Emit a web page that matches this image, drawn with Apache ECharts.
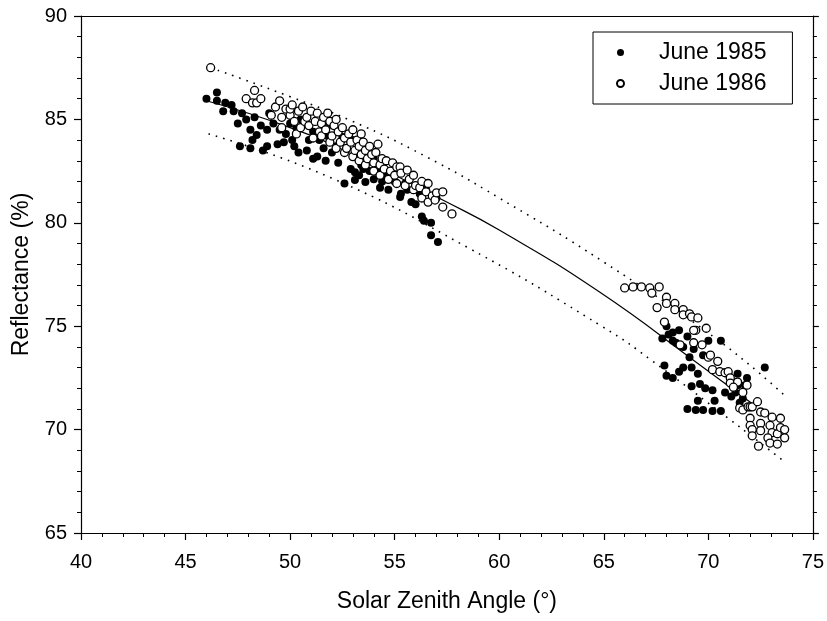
<!DOCTYPE html>
<html>
<head>
<meta charset="utf-8">
<script src="https://cdn.jsdelivr.net/npm/echarts@6/dist/echarts.min.js"></script>
<style>html,body{margin:0;padding:0;background:#fff;}#c{width:827px;height:621px;}</style>
</head>
<body>
<div id="c"></div>
<script>
// June 1985 observations [solar zenith angle, reflectance]
var june1985 = [
[46.0,86.0],[46.5,86.3],[46.5,85.9],[46.8,85.4],[46.9,85.8],[47.2,85.7],[47.3,85.4],[47.5,84.8],[47.6,83.7],[47.7,85.3],
[47.9,85.0],[48.1,84.5],[48.1,83.6],[48.2,84.0],[48.3,85.1],[48.4,84.25],[48.6,84.7],[48.7,83.5],[48.9,83.7],[48.9,84.5],
[49.0,85.3],[49.2,84.8],[49.4,83.8],[49.5,84.5],[49.7,83.9],[49.8,84.3],[50.0,84.8],[50.1,84.0],[50.2,83.7],[50.3,84.6],
[50.4,83.4],[50.5,85.0],[50.8,83.5],[50.9,84.0],[51.1,83.1],[51.1,84.4],[51.3,83.2],[51.4,84.0],[51.6,83.6],[51.7,83.0],
[51.8,84.2],[51.8,84.7],[52.0,83.4],[52.2,83.7],[52.3,82.9],[52.5,84.15],[52.6,81.9],[52.7,83.6],[52.9,82.6],[53.0,84.0],
[53.1,82.45],[53.1,82.07],[53.3,82.3],[53.4,82.8],[53.5,82.6],[53.6,81.97],[53.8,82.5],[54.0,82.1],[54.0,83.1],[54.2,82.6],
[54.3,81.7],[54.4,82.0],[54.6,82.3],[54.7,81.6],[55.0,82.0],[55.26,81.25],[55.3,82.5],[55.3,81.4],[55.5,81.9],[55.6,81.6],
[55.8,81.0],[55.97,81.6],[56.0,80.9],[56.2,81.4],[56.3,80.3],[56.4,80.1],[56.5,81.6],[56.74,80.0],[56.74,79.4],[57.0,81.2],
[57.07,79.07],
[67.8,74.4],[68.0,75.0],[68.1,74.6],[68.3,74.7],[68.3,74.3],[68.45,74.2],[68.6,74.8],[68.8,74.0],[69.0,74.5],[69.3,73.9],
[69.1,73.5],[69.75,73.6],[70.0,74.3],[70.6,74.3],[67.9,73.1],[68.0,72.6],[68.3,72.5],[68.6,72.8],[68.8,73.0],[69.2,73.0],
[69.5,72.7],[69.6,72.2],[69.2,72.1],[69.85,72.0],[70.2,71.9],[69.5,71.4],[69.0,71.0],[69.4,70.95],[69.75,70.95],[70.2,70.9],
[70.6,70.9],[70.3,71.4],[70.8,71.8],[71.1,71.6],[71.3,71.8],[71.4,72.15],[71.75,72.15],[71.65,71.5],[71.5,71.3],[71.4,72.7],
[71.85,72.5],[72.7,73.0]
];
// June 1986 observations [solar zenith angle, reflectance]
var june1986 = [
[46.2,87.5],[47.9,86.0],[48.2,85.8],[48.3,86.4],[48.4,85.8],[48.6,86.0],[49.1,85.2],[49.3,85.6],[49.5,85.9],[49.6,85.1],
[49.6,84.6],[49.8,85.5],[50.0,85.2],[50.0,85.5],[50.1,85.7],[50.2,84.9],[50.3,84.3],[50.4,85.4],[50.5,84.6],[50.6,85.6],
[50.7,84.9],[50.8,85.1],[50.9,84.7],[51.0,85.4],[51.1,84.1],[51.2,84.9],[51.3,85.3],[51.4,84.4],[51.5,84.8],[51.5,84.2],
[51.6,85.1],[51.7,84.5],[51.8,85.3],[51.9,84.9],[51.9,83.9],[52.0,84.2],[52.1,84.7],[52.2,85.0],[52.2,83.6],[52.3,84.4],
[52.4,83.9],[52.5,84.6],[52.6,84.1],[52.6,83.4],[52.7,83.6],[52.8,84.3],[52.9,83.9],[53.0,84.5],[53.0,83.2],[53.1,83.5],
[53.2,84.0],[53.3,83.7],[53.3,83.0],[53.4,83.3],[53.4,84.3],[53.5,83.9],[53.6,83.5],[53.6,82.8],[53.7,83.1],[53.8,83.7],
[53.9,83.3],[54.0,82.9],[54.0,82.5],[54.1,83.4],[54.2,83.8],[54.3,82.8],[54.3,82.3],[54.4,83.1],[54.5,82.6],[54.6,83.0],
[54.7,82.1],[54.8,82.5],[54.9,82.9],[55.0,82.3],[55.1,82.7],[55.1,81.9],[55.26,82.7],[55.3,82.4],[55.5,81.8],[55.6,82.55],
[55.7,82.1],[55.9,82.3],[55.9,81.6],[56.0,81.8],[56.2,81.7],[56.3,82.0],[56.3,81.2],[56.5,81.5],[56.6,81.9],[56.6,81.0],
[56.8,81.3],[56.93,81.1],[57.0,81.45],[57.3,80.76],[57.3,81.5],[57.74,80.43],
[66.0,76.85],[66.4,76.9],[66.8,76.9],[67.2,76.85],[67.3,76.6],[67.65,76.9],[67.55,75.9],[68.0,76.4],[68.0,76.1],[67.9,75.2],
[68.4,76.1],[68.4,75.8],[68.8,75.8],[68.8,75.55],[69.1,75.6],[69.2,75.45],[69.5,75.4],[69.4,74.8],[69.9,74.9],[69.3,74.8],
[68.65,74.1],[69.3,74.2],[69.7,74.1],[70.0,73.5],[70.1,73.6],[70.45,73.3],[70.2,72.9],[70.55,72.8],[70.8,72.75],[70.95,72.8],
[71.05,72.5],[71.05,72.25],[71.4,72.3],[71.85,72.15],[71.2,72.05],[71.65,71.8],[71.5,71.05],[71.65,70.95],[71.9,71.1],[72.0,71.1],
[72.1,71.1],[72.35,71.35],[72.5,70.85],[72.7,70.8],[73.05,70.6],[73.45,70.55],[72.0,70.55],[72.0,70.2],[72.1,70.0],[72.5,70.3],
[72.5,69.95],[72.95,70.2],[73.05,69.85],[73.3,69.8],[73.45,70.1],[73.65,70.0],[73.65,69.6],[72.85,69.6],[72.95,69.35],[72.4,69.2],
[72.1,69.7],[73.3,69.3]
];
// Fitted curve and its bounds
var fitLine = [[46.0,85.9],[50.0,84.6],[53.0,83.3],[57.3,81.1],[60.0,79.65],[64.8,76.65],[69.5,73.2],[72.3,71.1]];
var upperBound = [[46.2,87.5],[50.0,86.1],[53.0,84.9],[56.5,83.2],[60.0,81.2],[65.0,78.1],[70.5,74.3],[73.7,71.6]];
var lowerBound = [[46.1,84.3],[51.9,82.2],[58.5,78.8],[64.9,75.0],[67.35,73.3],[73.7,68.4]];

var xName = 'Solar Zenith Angle (°)';
var yName = 'Reflectance (%)';
var seriesNames = ['June 1985', 'June 1986'];

var FONT = '"Liberation Sans", Arial, Helvetica, sans-serif';
var chart = echarts.init(document.getElementById('c'), null, {renderer: 'canvas'});
var axisLine = {show: true, lineStyle: {color: '#000', width: 1.2}};
var option = {
  animation: false,
  backgroundColor: '#fff',
  grid: {left: 81, right: 14, top: 16, bottom: 88, containLabel: false},
  legend: {
    data: seriesNames,
    orient: 'vertical',
    left: 593, top: 32,
    width: 203,
    borderColor: '#000', borderWidth: 1,
    padding: [9, 26, 9, 23],
    itemGap: 8,
    itemWidth: 7, itemHeight: 7,
    icon: 'circle',
    textStyle: {fontFamily: FONT, fontSize: 23, color: '#000', padding: [0, 0, 0, 30]}
  },
  xAxis: [{
    type: 'value', min: 40, max: 75, interval: 5, position: 'bottom',
    name: xName, nameLocation: 'middle', nameGap: 57,
    nameTextStyle: {fontFamily: FONT, fontSize: 23, color: '#000'},
    axisLine: axisLine,
    axisTick: {show: true, inside: false, length: 7, lineStyle: {color: '#000', width: 1.2}},
    minorTick: {show: true, splitNumber: 5, length: 4, lineStyle: {color: '#000', width: 1}},
    axisLabel: {fontFamily: FONT, fontSize: 20, color: '#000', margin: 19},
    splitLine: {show: false}
  }, {
    type: 'value', min: 40, max: 75, interval: 5, position: 'top',
    axisLine: axisLine, axisTick: {show: false}, axisLabel: {show: false}, splitLine: {show: false}
  }],
  yAxis: [{
    type: 'value', min: 65, max: 90, interval: 5, position: 'left',
    name: yName, nameLocation: 'middle', nameGap: 48,
    nameTextStyle: {fontFamily: FONT, fontSize: 23, color: '#000'},
    axisLine: axisLine,
    axisTick: {show: true, inside: false, length: 7, lineStyle: {color: '#000', width: 1.2}},
    minorTick: {show: true, splitNumber: 5, length: 4, lineStyle: {color: '#000', width: 1}},
    axisLabel: {fontFamily: FONT, fontSize: 20, color: '#000', margin: 14},
    splitLine: {show: false}
  }, {
    type: 'value', min: 65, max: 90, interval: 5, position: 'right',
    axisLine: axisLine,
    axisTick: {show: true, inside: false, length: 6, lineStyle: {color: '#000', width: 1.2}},
    minorTick: {show: true, splitNumber: 5, length: 4, lineStyle: {color: '#000', width: 1}},
    axisLabel: {show: false}, splitLine: {show: false}
  }],
  series: [
    {name: 'fit', type: 'line', data: fitLine, smooth: true, showSymbol: false, silent: true,
     lineStyle: {color: '#000', width: 1.2}, z: 3},
    {name: 'upper', type: 'line', data: upperBound, smooth: true, showSymbol: false, silent: true,
     lineStyle: {color: '#000', width: 1.6, type: [1.6, 6]}, z: 1},
    {name: 'lower', type: 'line', data: lowerBound, smooth: true, showSymbol: false, silent: true,
     lineStyle: {color: '#000', width: 1.6, type: [1.6, 6]}, z: 1},
    {name: seriesNames[0], type: 'scatter', data: june1985, symbol: 'circle', symbolSize: 8,
     itemStyle: {color: '#000', opacity: 1}, z: 4},
    {name: seriesNames[1], type: 'scatter', data: june1986, symbol: 'circle', symbolSize: 8,
     itemStyle: {color: '#fff', borderColor: '#000', borderWidth: 1.3, opacity: 1}, z: 5}
  ]
};
chart.setOption(option);
</script>
</body>
</html>
